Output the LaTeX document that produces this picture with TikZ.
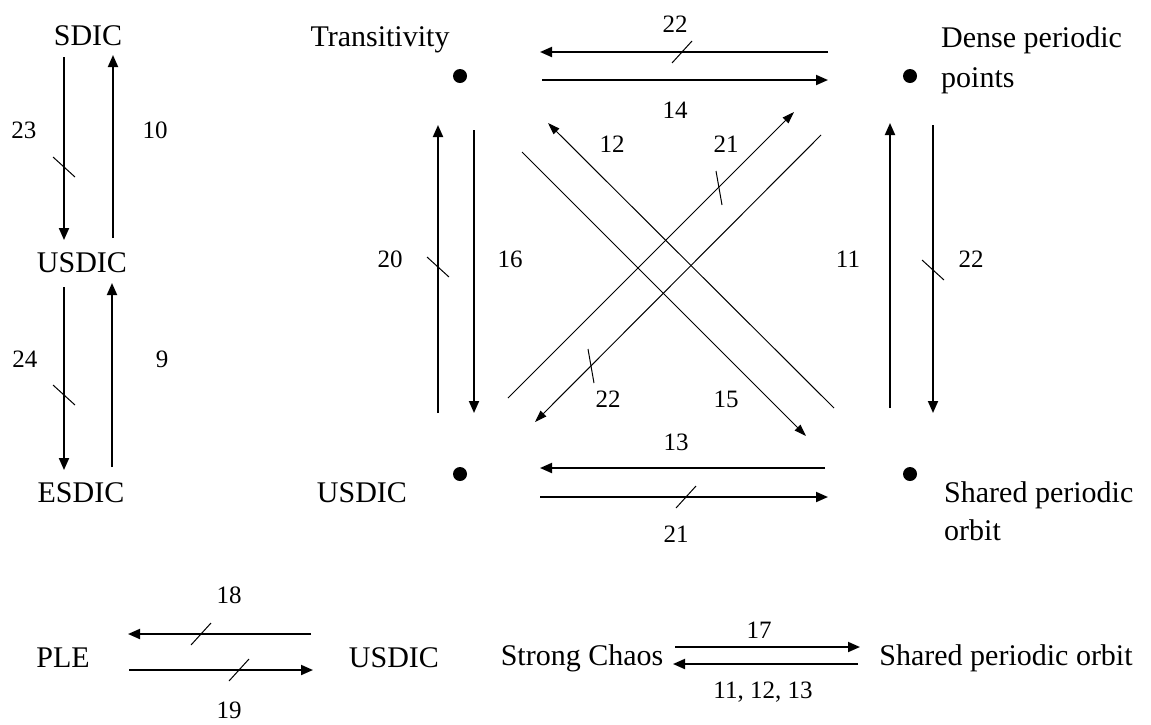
\documentclass[tikz,border=0pt]{standalone}
\usepackage{fontspec}
\setmainfont{Liberation Serif}
\usetikzlibrary{arrows.meta,calc}
\begin{document}
\begin{tikzpicture}[x=1pt,y=-1pt,
  arr/.style={line width=1.9pt,-{Triangle[length=12pt,width=10pt]}},
  darr/.style={line width=1pt,-{Triangle[length=12pt,width=8pt]}},
  tickln/.style={line width=1pt},
  nmtxt/.style={font=\fontsize{30}{36}\selectfont,anchor=base,inner sep=0pt},
  lnmtxt/.style={font=\fontsize{30}{36}\selectfont,anchor=base west,inner sep=0pt},
  numtxt/.style={font=\fontsize{25}{30}\selectfont,anchor=base,inner sep=0pt},
  dotn/.style={circle,fill=black,inner sep=0pt,minimum size=14pt}]
\fill[white] (0,0) rectangle (1151,724);
\useasboundingbox (0,0) rectangle (1151,724);

% ---------- left column ----------
\node[nmtxt] (sdic) at (88,45) {SDIC};
\node[nmtxt] (usdicL) at (82,272) {USDIC};
\node[nmtxt] (esdic) at (81,502) {ESDIC};
\coordinate (a23s) at (64,57);  \coordinate (a23e) at (64,240);
\coordinate (a10s) at (113,238); \coordinate (a10e) at (113,55);
\coordinate (a24s) at (64,287); \coordinate (a24e) at (64,470);
\coordinate (a9s) at (112,467); \coordinate (a9e) at (112,283);
\draw[arr] (a23s) -- (a23e);
\draw[arr] (a10s) -- (a10e);
\draw[arr] (a24s) -- (a24e);
\draw[arr] (a9s) -- (a9e);
\coordinate (t23) at (64,167);
\coordinate (t24) at (64,395);
\draw[tickln] ($(t23)+(-11,-10)$) -- ($(t23)+(11,10)$);
\draw[tickln] ($(t24)+(-11,-10)$) -- ($(t24)+(11,10)$);
\node[numtxt] (l23) at (24,138) {23};
\node[numtxt] (l10) at (155,138) {10};
\node[numtxt] (l24) at (25,367) {24};
\node[numtxt] (l9) at (162,367) {9};

% ---------- square ----------
\node[nmtxt] (trans) at (380,46) {Transitivity};
\node[dotn] (dT) at (460,76) {};
\node[dotn] (dD) at (910,76) {};
\node[dotn] (dU) at (460,474) {};
\node[dotn] (dS) at (910,474) {};
\node[lnmtxt] (dense1) at (941,47) {Dense periodic};
\node[lnmtxt] (dense2) at (941,87) {points};
\node[nmtxt] (usdicM) at (362,502) {USDIC};
\node[lnmtxt] (shared1) at (944,502) {Shared periodic};
\node[lnmtxt] (shared2) at (944,540) {orbit};

% top horizontals
\coordinate (h22s) at (828,52); \coordinate (h22e) at (540,52);
\coordinate (h14s) at (542,80); \coordinate (h14e) at (828,80);
\draw[arr] (h22s) -- (h22e);
\draw[arr] (h14s) -- (h14e);
\coordinate (th22) at (682,52);
\draw[tickln] ($(th22)+(-10,11)$) -- ($(th22)+(10,-11)$);
\node[numtxt] (l22a) at (675,32) {22};
\node[numtxt] (l14) at (675,118) {14};

% bottom horizontals
\coordinate (h13s) at (825,468); \coordinate (h13e) at (540,468);
\coordinate (h21s) at (540,497); \coordinate (h21e) at (828,497);
\draw[arr] (h13s) -- (h13e);
\draw[arr] (h21s) -- (h21e);
\coordinate (th21) at (686,497);
\draw[tickln] ($(th21)+(-10,11)$) -- ($(th21)+(10,-11)$);
\node[numtxt] (l13) at (676,450) {13};
\node[numtxt] (l21b) at (676,542) {21};

% left verticals
\coordinate (v20s) at (438,413); \coordinate (v20e) at (438,125);
\coordinate (v16s) at (474,130); \coordinate (v16e) at (474,413);
\draw[arr] (v20s) -- (v20e);
\draw[arr] (v16s) -- (v16e);
\coordinate (tv20) at (438,267);
\draw[tickln] ($(tv20)+(-11,-10)$) -- ($(tv20)+(11,10)$);
\node[numtxt] (l20) at (390,267) {20};
\node[numtxt] (l16) at (510,267) {16};

% right verticals
\coordinate (v11s) at (890,408); \coordinate (v11e) at (890,123);
\coordinate (v22s) at (933,125); \coordinate (v22e) at (933,413);
\draw[arr] (v11s) -- (v11e);
\draw[arr] (v22s) -- (v22e);
\coordinate (tv22) at (933,270);
\draw[tickln] ($(tv22)+(-11,-10)$) -- ($(tv22)+(11,10)$);
\node[numtxt] (l11) at (848,267) {11};
\node[numtxt] (l22r) at (971,267) {22};

% diagonals
\coordinate (d12s) at (834,408); \coordinate (d12e) at (548,123);
\coordinate (d15s) at (522,152); \coordinate (d15e) at (806,436);
\coordinate (d21s) at (508,398); \coordinate (d21e) at (794,112);
\coordinate (d22s) at (821,135); \coordinate (d22e) at (535,422);
\draw[darr] (d12s) -- (d12e);
\draw[darr] (d15s) -- (d15e);
\draw[darr] (d21s) -- (d21e);
\draw[darr] (d22s) -- (d22e);
\coordinate (td21) at (719,188);
\coordinate (td22) at (591,366);
\draw[tickln] ($(td21)+(-3,-17)$) -- ($(td21)+(3,17)$);
\draw[tickln] ($(td22)+(-3,-17)$) -- ($(td22)+(3,17)$);
\node[numtxt] (l12) at (612,152) {12};
\node[numtxt] (l21a) at (726,152) {21};
\node[numtxt] (l22d) at (608,407) {22};
\node[numtxt] (l15) at (726,407) {15};

% ---------- bottom row ----------
\node[nmtxt] (ple) at (63,667) {PLE};
\node[nmtxt] (usdicB) at (394,667) {USDIC};
\coordinate (b18s) at (311,634); \coordinate (b18e) at (128,634);
\coordinate (b19s) at (129,670); \coordinate (b19e) at (313,670);
\draw[arr] (b18s) -- (b18e);
\draw[arr] (b19s) -- (b19e);
\coordinate (tb18) at (201,634);
\coordinate (tb19) at (239,670);
\draw[tickln] ($(tb18)+(-10,11)$) -- ($(tb18)+(10,-11)$);
\draw[tickln] ($(tb19)+(-10,11)$) -- ($(tb19)+(10,-11)$);
\node[numtxt] (l18) at (229,603) {18};
\node[numtxt] (l19) at (229,718) {19};

\node[nmtxt] (strong) at (582,665) {Strong Chaos};
\node[nmtxt] (spo) at (1006,665) {Shared periodic orbit};
\coordinate (b17s) at (675,647); \coordinate (b17e) at (860,647);
\coordinate (b11s) at (858,664); \coordinate (b11e) at (673,664);
\draw[arr] (b17s) -- (b17e);
\draw[arr] (b11s) -- (b11e);
\node[numtxt] (l17) at (759,638) {17};
\node[numtxt] (l111213) at (763,698) {11, 12, 13};
\end{tikzpicture}
\end{document}
